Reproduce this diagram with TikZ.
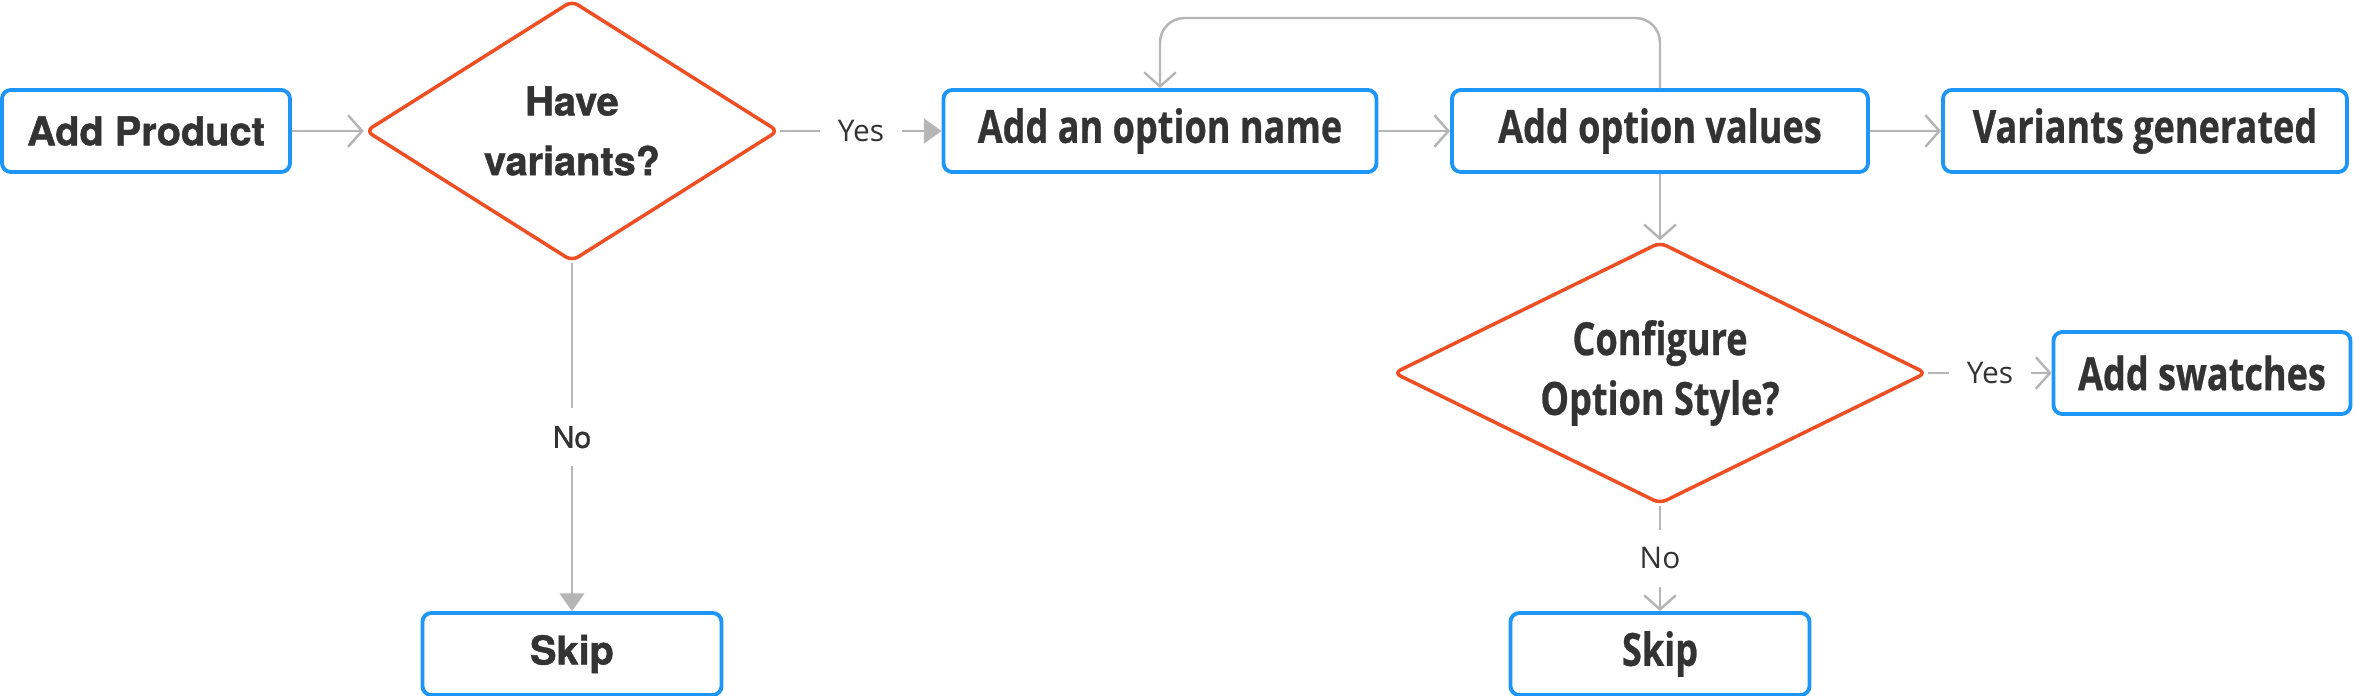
\documentclass[tikz,border=0pt]{standalone}
\usepackage{fontspec}
\setmainfont{Open Sans}
\newfontfamily\heros[FakeBold=1.2]{TeX Gyre Heros}
\newfontfamily\narrow[FakeStretch=0.79,FakeBold=0.6]{Open Sans}
\usetikzlibrary{shapes.geometric,arrows.meta}
\definecolor{boxblue}{HTML}{1E96F8}
\definecolor{askred}{HTML}{F04E23}
\definecolor{linkgray}{HTML}{B5B5B5}
\definecolor{inkgray}{HTML}{333333}
\tikzset{
  box/.style={draw=boxblue, line width=1.1pt, rounded corners=2.5pt, fill=white,
    minimum height=.82cm, inner sep=2pt, text=inkgray, font=\narrow\bfseries\fontsize{13}{15}\selectfont},
  plainbox/.style={box, font=\heros\bfseries\fontsize{11.3}{15}\selectfont},
  decision/.style={diamond, draw=askred, line width=1pt, rounded corners=2pt, fill=white,
    inner sep=0pt},
  asktext/.style={align=center, text=inkgray, font=\narrow\bfseries\fontsize{13}{17}\selectfont},
  plainask/.style={asktext, font=\heros\bfseries\fontsize{11.3}{17}\selectfont},
  link/.style={draw=linkgray, line width=.7pt, -{Straight Barb[length=4pt,width=9pt]}},
  solidlink/.style={draw=linkgray, line width=.7pt, -{Triangle[length=5pt,width=7pt]}},
  lbl/.style={fill=white, text=inkgray, font=\fontsize{8.5}{11}\selectfont, inner sep=5pt}
}
\begin{document}
\begin{tikzpicture}
  \useasboundingbox (0,0) rectangle (23.54,6.96);
  % boxes and decisions
  \node[plainbox, minimum width=2.88cm] (product) at (1.46,5.65) {Add Product};
  \node[decision, minimum width=4.13cm, minimum height=2.61cm,
    label={[plainask]center:Have\\variants?}] (variants) at (5.72,5.65) {};
  \node[box, minimum width=4.33cm] (optname) at (11.60,5.65) {Add an option name};
  \node[box, minimum width=4.16cm] (optvalues) at (16.60,5.65) {Add option values};
  \node[box, minimum width=4.04cm] (generated) at (21.45,5.65) {Variants generated};
  \node[decision, minimum width=5.33cm, minimum height=2.62cm,
    label={[asktext]center:Configure\\Option Style?}] (style) at (16.60,3.23) {};
  \node[box, minimum width=2.97cm] (swatches) at (22.02,3.23) {Add swatches};
  \node[plainbox, minimum width=2.99cm] (skipa) at (5.72,0.42) {Skip};
  \node[box, minimum width=2.99cm] (skipb) at (16.60,0.42) {Skip};
  % connectors
  \draw[link] (product) -- (variants);
  \draw[solidlink] (variants.east) -- node[lbl] {Yes} (optname.west);
  \draw[solidlink] (variants.south) -- node[lbl, pos=.5, font=\heros\fontsize{8.5}{11}\selectfont] {No} (skipa.north);
  \draw[link] (optname) -- (optvalues);
  \draw[link] (optvalues) -- (generated);
  \draw[link] (optvalues.south) -- (style.north);
  \draw[link, rounded corners=7pt] (optvalues.north) |- (11.60,6.78) -- (optname.north);
  \draw[link] (style.east) -- node[lbl] {Yes} (swatches.west);
  \draw[link] (style.south) -- node[lbl] {No} (skipb.north);
\end{tikzpicture}
\end{document}
